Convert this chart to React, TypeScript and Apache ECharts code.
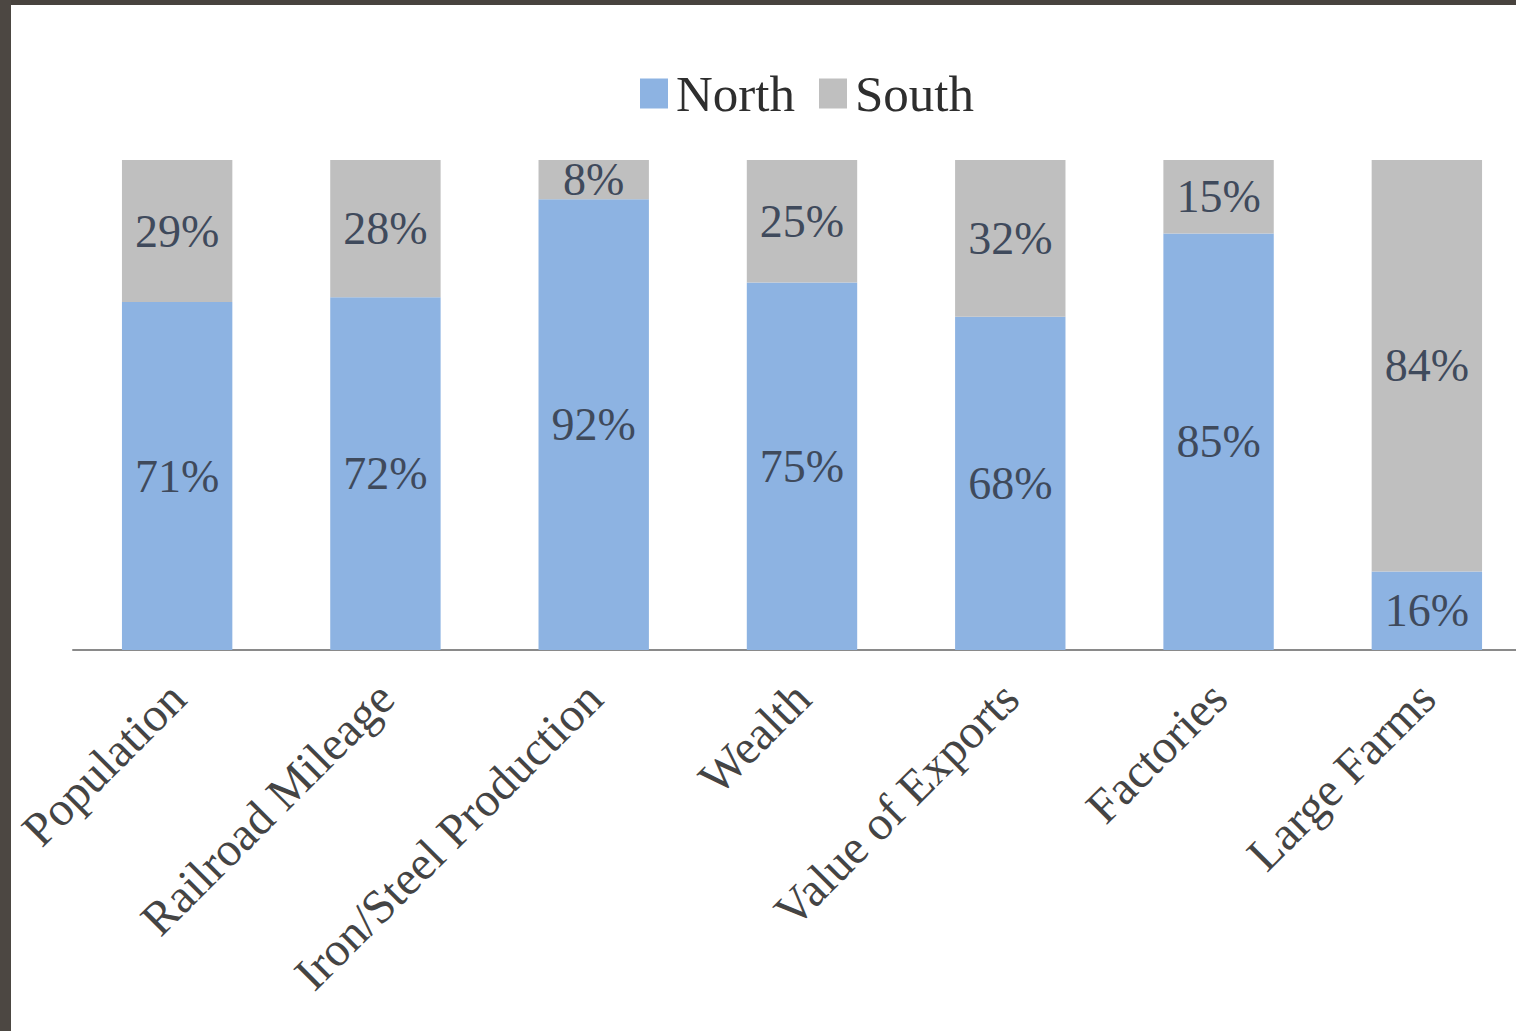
import React, { useEffect, useRef } from "react";
import * as echarts from "echarts";

const categories = [
  "Population",
  "Railroad Mileage",
  "Iron/Steel Production",
  "Wealth",
  "Value of Exports",
  "Factories",
  "Large Farms",
];
const northValues = [71, 72, 92, 75, 68, 85, 16];
const southValues = [29, 28, 8, 25, 32, 15, 84];
const seriesNames = ["North", "South"];

export default function App() {
  const ref = useRef<HTMLDivElement>(null);
  useEffect(() => {
    if (!ref.current) return;
    const chart = echarts.init(ref.current, undefined, { renderer: "svg" });
    const font = "'Liberation Serif', 'DejaVu Serif', serif";
    const labelStyle = {
      show: true,
      position: "inside" as const,
      formatter: "{c}%",
      fontFamily: font,
      fontSize: 46,
      color: "#3f4a5c",
    };
    chart.setOption({
      animation: false,
      backgroundColor: "#ffffff",
      textStyle: { fontFamily: font },
      graphic: [
        { type: "rect", shape: { x: 0, y: 0, width: 1560, height: 5 }, style: { fill: "#48433e" } },
        { type: "rect", shape: { x: 0, y: 0, width: 11, height: 1031 }, style: { fill: "#4c4742" } },
      ],
      legend: {
        data: seriesNames,
        top: 63,
        left: 635,
        itemWidth: 28,
        itemHeight: 30,
        itemGap: 24,
        icon: "rect",
        textStyle: { fontFamily: font, fontSize: 51, color: "#2e2e2e", padding: [0, 0, 0, 3] },
      },
      grid: { left: 73, top: 160, bottom: 381, right: 9, containLabel: false },
      xAxis: {
        type: "category",
        data: categories,
        axisLine: { show: true, lineStyle: { color: "#8a8a8a", width: 2 } },
        axisTick: { show: false },
        axisLabel: {
          rotate: 45,
          interval: 0,
          margin: 40,
          fontFamily: font,
          fontSize: 48,
          color: "#444444",
        },
      },
      yAxis: {
        type: "value",
        min: 0,
        max: 100,
        show: false,
        splitLine: { show: false },
      },
      series: [
        {
          name: seriesNames[0],
          type: "bar",
          stack: "total",
          data: northValues,
          barWidth: "53%",
          itemStyle: { color: "#8db3e2" },
          label: labelStyle,
        },
        {
          name: seriesNames[1],
          type: "bar",
          stack: "total",
          data: southValues,
          barWidth: "53%",
          itemStyle: { color: "#bfbfbf" },
          label: labelStyle,
        },
      ],
    });
    return () => chart.dispose();
  }, []);
  return (
    <div style={{ position: "fixed", left: 0, top: 0, width: 1516, height: 1031, overflow: "hidden" }}>
      <div ref={ref} style={{ position: "absolute", left: 0, top: 0, width: 1540, height: 1031 }} />
    </div>
  );
}
